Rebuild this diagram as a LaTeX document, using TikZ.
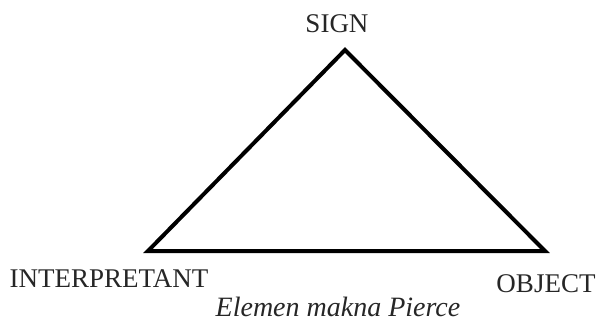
\documentclass[tikz,border=0pt]{standalone}
\usepackage{fontspec}
\setmainfont{Liberation Serif}
\usepackage{tikz}
\usetikzlibrary{positioning}

\begin{document}
\begin{tikzpicture}[
  x=0.5pt, y=-0.5pt,
  every node/.style={font=\fontsize{13.5}{16}\selectfont, inner sep=0pt},
  corner/.style={text=black!85},
  caption/.style={font=\fontsize{14}{16}\selectfont\itshape, text=black!85},
  side/.style={line width=2pt, line join=miter}
]
  \useasboundingbox (0,0) rectangle (601,322);

  % triangle corners
  \coordinate (top) at (345,50);
  \coordinate (left) at (148,251);
  \coordinate (right) at (545,251);

  \node[corner] (sign) at (337,24) {SIGN};
  \node[corner] (interp) at (109,279) {INTERPRETANT};
  \node[corner] (object) at (546,284) {OBJECT};
  \node[caption] (cap) at (338,307) {Elemen makna Pierce};

  \draw[side] (top) -- (right) -- (left) -- cycle;
\end{tikzpicture}
\end{document}
